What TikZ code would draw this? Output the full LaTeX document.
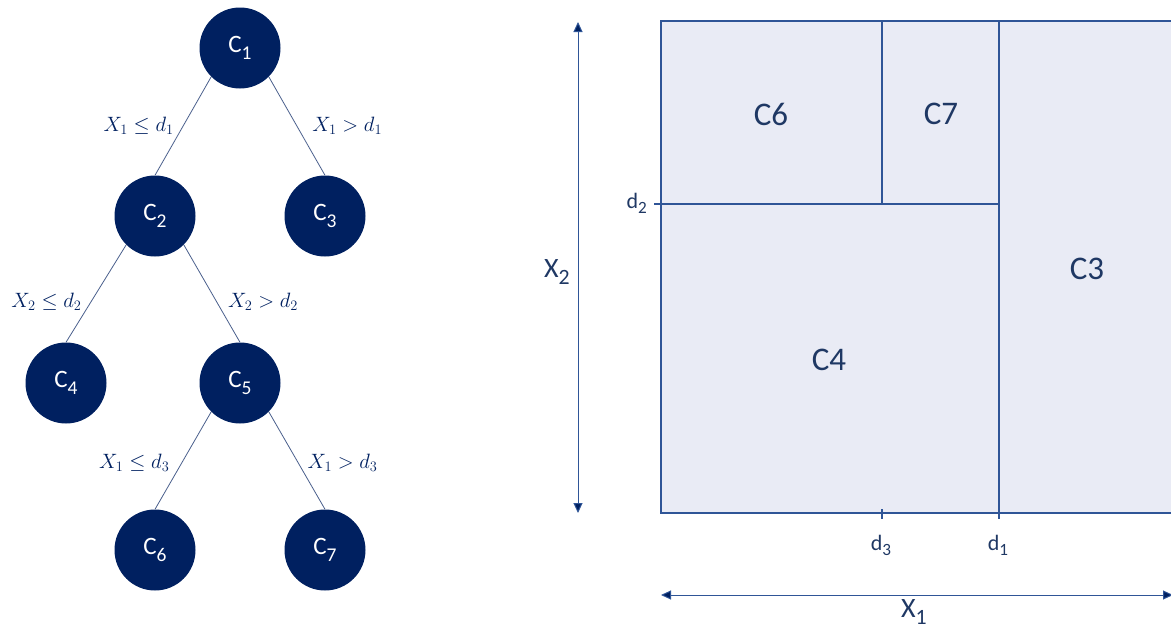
\documentclass[tikz,border=0pt]{standalone}
\usepackage{fontspec}
\usepackage{graphicx}
\setmainfont{Carlito}
\usetikzlibrary{arrows.meta}
\definecolor{navy}{HTML}{002060}
\definecolor{ink}{HTML}{1F3864}
\definecolor{cellfill}{HTML}{E9EBF5}
\definecolor{cellline}{HTML}{2F5597}
\definecolor{edgegray}{HTML}{4A5F8C}
\newcommand\sbx[1]{\raisebox{-0.27em}{\scalebox{0.78}{#1}}}
\begin{document}
\begin{tikzpicture}[x=1pt,y=-1pt,
  treenode/.style={circle,fill=navy,minimum size=81pt,inner sep=0pt,text=white,font=\fontsize{25}{28}\selectfont},
  branch/.style={draw=edgegray,line width=0.8pt},
  cond/.style={text=navy,font=\fontsize{21.5}{24}\selectfont,inner sep=0pt},
  cell/.style={fill=cellfill,draw=cellline,line width=1.6pt},
  divider/.style={draw=cellline,line width=1.6pt},
  celltext/.style={text=ink,font=\fontsize{33}{36}\selectfont,inner sep=0pt},
  axisline/.style={draw=cellline,line width=1pt,{Triangle[length=10pt,width=9pt,fill=navy]}-{Triangle[length=10pt,width=9pt,fill=navy]}},
  ticklabel/.style={text=ink,font=\fontsize{22}{24}\selectfont,inner sep=0pt},
  axislabel/.style={text=ink,font=\fontsize{28}{30}\selectfont,inner sep=0pt}]
\clip (0,0) rectangle (1171,629);

% ---- tree ----
\node[treenode] (c1) at (240,48)  {C\sbx{1}};
\node[treenode] (c2) at (155,216) {C\sbx{2}};
\node[treenode] (c3) at (325,216) {C\sbx{3}};
\node[treenode] (c4) at (66,383)  {C\sbx{4}};
\node[treenode] (c5) at (240,383) {C\sbx{5}};
\node[treenode] (c6) at (155,550) {C\sbx{6}};
\node[treenode] (c7) at (325,550) {C\sbx{7}};

\draw[branch] (c1.south west) -- node[cond,pos=0.5,anchor=east,xshift=-9pt] (l1) {$X_1 \le d_1$} (c2.north);
\draw[branch] (c1.south east) -- node[cond,pos=0.5,anchor=west,xshift=15pt] (l2) {$X_1 > d_1$} (c3.north);
\draw[branch] (c2.south west) -- node[cond,pos=0.586,anchor=east,xshift=-9pt] (l3) {$X_2 \le d_2$} (c4.north);
\draw[branch] (c2.south east) -- node[cond,pos=0.586,anchor=west,xshift=11pt] (l4) {$X_2 > d_2$} (c5.north);
\draw[branch] (c5.south west) -- node[cond,pos=0.525,anchor=east,xshift=-12pt] (l5) {$X_1 \le d_3$} (c6.north);
\draw[branch] (c5.south east) -- node[cond,pos=0.525,anchor=west,xshift=9pt] (l6) {$X_1 > d_3$} (c7.north);

% ---- partition ----
\coordinate (bl) at (661,513);
\coordinate (tr) at (1190,21);
\coordinate (d1top) at (999,21);
\coordinate (d1bot) at (999,513);
\coordinate (d2left) at (661,204);
\coordinate (d2right) at (999,204);
\coordinate (d3top) at (882,21);
\coordinate (d3bot) at (882,204);
\draw[cell] (bl) rectangle (tr);
\draw[divider] (d1top) -- (d1bot);
\draw[divider] (d2left) -- (d2right);
\draw[divider] (d3top) -- (d3bot);

\node[celltext] (r6) at (771,114) {C6};
\node[celltext] (r7) at (941,114) {C7};
\node[celltext] (r3) at (1087,269) {C3};
\node[celltext] (r4) at (829,360) {C4};

% ticks
\coordinate (t2a) at (654,204);
\coordinate (t3a) at (882,509);
\coordinate (t3b) at (882,519);
\coordinate (t1a) at (999,509);
\coordinate (t1b) at (999,519);
\draw[divider] (t2a) -- (d2left);
\draw[divider] (t3a) -- (t3b);
\draw[divider] (t1a) -- (t1b);

\node[ticklabel,anchor=base east] (ld2) at (647,208) {d\sbx{2}};
\node[ticklabel,anchor=base] (ld3) at (881,550) {d\sbx{3}};
\node[ticklabel,anchor=base] (ld1) at (998,550) {d\sbx{1}};

% axes
\coordinate (vtop) at (578,22);
\coordinate (vbot) at (578,513);
\coordinate (hleft) at (661,595);
\coordinate (hright) at (1173,595);
\draw[axisline] (vtop) -- (vbot);
\draw[axisline] (hleft) -- (hright);
\node[axislabel,anchor=base] (lx2) at (557,277) {X\sbx{2}};
\node[axislabel,anchor=base] (lx1) at (914,617) {X\sbx{1}};
\end{tikzpicture}
\end{document}
